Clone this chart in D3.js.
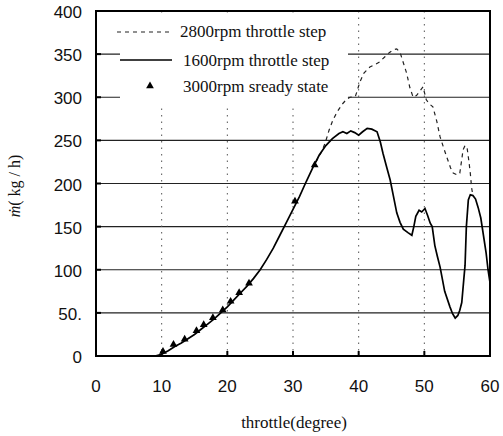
<!DOCTYPE html>
<html>
<head>
<meta charset="utf-8">
<script src="https://cdn.jsdelivr.net/npm/d3@7"></script>
<style>
  body { margin: 0; background: #fff; }
  svg { display: block; }
  .tick-label { font-family: 'Liberation Sans', Arial, sans-serif; font-size: 17px; fill: #111; }
  .serif { font-family: 'Liberation Serif', 'Times New Roman', serif; fill: #111; }
</style>
</head>
<body>
<div id="chart"></div>
<script>
// 1600rpm throttle step (solid)
const solidDeg = [9, 10, 11, 12, 13, 14, 15, 16, 17, 18, 19, 20, 21, 22, 23, 24, 25, 26, 27, 28, 29, 30,
  31, 32, 33, 34, 35, 36, 37, 37.6, 38.2, 38.8, 39.4, 40, 40.6, 41.3, 42, 42.8, 43.3, 43.7, 44.3, 44.8,
  45.3, 45.8, 46.3, 46.8, 47.5, 48.1, 48.4, 48.7, 49.2, 49.6, 50.1, 50.5, 50.9, 51.2, 51.6, 52, 52.4,
  53.1, 53.9, 54.3, 54.7, 55.1, 55.4, 55.7, 56, 56.2, 56.4, 56.7, 57, 57.4, 57.8, 58.2, 58.6, 59, 59.4, 59.7, 60]
const solidVal = [0, 2, 6, 11, 15, 20, 25, 31, 37, 43, 50, 57, 65, 73, 81, 90, 100, 112, 125, 140, 155, 170,
  185, 202, 218, 233, 244, 252, 258, 260, 258, 261, 259, 256, 260, 264, 263, 260, 248, 235, 218, 204,
  185, 166, 155, 147, 143, 140, 150, 162, 169, 167, 171, 163, 154, 150, 128, 115, 103,
  75, 57, 49, 44, 47, 53, 62, 88, 105, 150, 181, 187, 186, 182, 172, 160, 140, 120, 100, 85]

// 2800rpm throttle step (dashed), only the part that leaves the solid curve
const dashDeg = [33.5, 34.3, 34.9, 35.5, 36.1, 36.8, 37.5, 38.2, 38.7, 39.5, 40.2, 40.8, 41.7, 42.5, 43.2,
  44, 44.7, 45.3, 45.8, 46.3, 46.8, 47.3, 47.8, 48.3, 48.8, 49.3, 49.8, 50.3, 50.8, 51.3, 51.9, 52.4,
  53, 53.4, 54, 54.4, 55, 55.4, 55.7, 55.9, 56.2, 56.5, 56.8, 57, 57.2, 57.4]
const dashVal = [225, 236, 247, 262, 274, 284, 292, 298, 300, 301, 318, 328, 335, 338, 341,
  347, 352, 355, 356, 352, 340, 328, 311, 300, 302, 307, 312, 297, 292, 289, 272, 254,
  240, 231, 218, 212, 210, 212, 228, 239, 244, 242, 225, 212, 195, 186]

// 3000rpm steady state (triangles)
const steadyDeg = [10.2, 11.8, 13.5, 15.3, 16.4, 17.8, 19.3, 20.5, 21.8, 23.3, 30.3, 33.3]
const steadyVal = [3, 11, 17, 27, 34, 42, 51, 61, 71, 82, 177, 219]

const xTicks = [0, 10, 20, 30, 40, 50, 60]
const yTicks = [0, 50, 100, 150, 200, 250, 300, 350, 400]
const yTickLabels = ['0', '50.', '100', '150', '200', '250', '300', '350', '400']
const legendNames = ['2800rpm throttle step', '1600rpm throttle step', '3000rpm sready state']

const width = 503
const height = 436
const margin = {top: 11, right: 13, bottom: 80, left: 96}
const w = width - margin.left - margin.right
const h = height - margin.top - margin.bottom

const svg = d3.select('#chart').append('svg')
  .attr('width', width)
  .attr('height', height)

const g = svg.append('g')
  .attr('transform', 'translate(' + margin.left + ',' + margin.top + ')')

const x = d3.scaleLinear().domain([0, 60]).range([0, w])
const y = d3.scaleLinear().domain([0, 400]).range([h, 0])

// horizontal grid
g.selectAll('.hgrid')
  .data(yTicks.filter(v => v > 0 && v < 400))
  .enter().append('line')
  .attr('x1', 0).attr('x2', w)
  .attr('y1', d => y(d)).attr('y2', d => y(d))
  .attr('stroke', '#222')
  .attr('stroke-width', 1.2)

// vertical dotted grid
g.selectAll('.vgrid')
  .data(xTicks.filter(v => v > 0 && v < 60))
  .enter().append('line')
  .attr('x1', d => x(d)).attr('x2', d => x(d))
  .attr('y1', 0).attr('y2', h)
  .attr('stroke', '#555')
  .attr('stroke-width', 1)
  .attr('stroke-dasharray', '1.5,5')

// legend background hides the grid behind it
g.append('rect')
  .attr('x', 24).attr('y', 6)
  .attr('width', 228).attr('height', 87)
  .attr('fill', '#fff')

const line = d3.line()
  .x(d => x(d[0]))
  .y(d => y(d[1]))

const solid = solidDeg.map((d, i) => [d, solidVal[i]])
const dashed = dashDeg.map((d, i) => [d, dashVal[i]])
const steady = steadyDeg.map((d, i) => [d, steadyVal[i]])

g.append('path')
  .datum(dashed)
  .attr('d', line)
  .attr('fill', 'none')
  .attr('stroke', '#222')
  .attr('stroke-width', 1.2)
  .attr('stroke-dasharray', '4,4')

g.append('path')
  .datum(solid)
  .attr('d', line)
  .attr('fill', 'none')
  .attr('stroke', '#000')
  .attr('stroke-width', 1.7)

const tri = d3.symbol().type(d3.symbolTriangle).size(26)
g.selectAll('.steady')
  .data(steady)
  .enter().append('path')
  .attr('d', tri)
  .attr('transform', d => 'translate(' + x(d[0]) + ',' + (y(d[1]) - 2) + ')')
  .attr('fill', '#000')

// frame
g.append('rect')
  .attr('width', w).attr('height', h)
  .attr('fill', 'none')
  .attr('stroke', '#000')
  .attr('stroke-width', 2)

// inner tick marks
g.selectAll('.xt')
  .data(xTicks)
  .enter().append('line')
  .attr('x1', d => x(d)).attr('x2', d => x(d))
  .attr('y1', h).attr('y2', h - 5)
  .attr('stroke', '#000').attr('stroke-width', 2)
g.selectAll('.yt')
  .data(yTicks)
  .enter().append('line')
  .attr('x1', 0).attr('x2', 5)
  .attr('y1', d => y(d)).attr('y2', d => y(d))
  .attr('stroke', '#000').attr('stroke-width', 2)

// tick labels
g.selectAll('.xl')
  .data(xTicks)
  .enter().append('text')
  .attr('class', 'tick-label')
  .attr('x', d => x(d))
  .attr('y', h + 36)
  .attr('text-anchor', 'middle')
  .text(d => d)
g.selectAll('.yl')
  .data(yTicks)
  .enter().append('text')
  .attr('class', 'tick-label')
  .attr('x', -14)
  .attr('y', d => y(d) + 7)
  .attr('text-anchor', 'end')
  .text((d, i) => yTickLabels[i])

// axis titles
svg.append('text')
  .attr('class', 'serif')
  .attr('x', 294).attr('y', 428)
  .attr('text-anchor', 'middle')
  .style('font-size', '17px')
  .text('throttle(degree)')

const yt = svg.append('text')
  .attr('class', 'serif')
  .attr('transform', 'translate(20,186) rotate(-90)')
  .attr('text-anchor', 'middle')
  .style('font-size', '16px')
yt.append('tspan').style('font-style', 'italic').text('ṁ')
yt.append('tspan').text('( kg / h)')

// legend
const legend = g.append('g')
legend.append('line')
  .attr('x1', 21).attr('x2', 76).attr('y1', 21).attr('y2', 21)
  .attr('stroke', '#222').attr('stroke-width', 1.2).attr('stroke-dasharray', '4,4')
legend.append('line')
  .attr('x1', 24).attr('x2', 76).attr('y1', 49).attr('y2', 49)
  .attr('stroke', '#000').attr('stroke-width', 1.7)
legend.append('path')
  .attr('d', tri)
  .attr('transform', 'translate(54,75)')
  .attr('fill', '#000')
legend.selectAll('.ln')
  .data(legendNames)
  .enter().append('text')
  .attr('class', 'serif')
  .attr('x', (d, i) => i === 0 ? 84 : 87)
  .attr('y', (d, i) => [21, 50, 76][i] + 5)
  .style('font-size', '17px')
  .text(d => d)
</script>
</body>
</html>
